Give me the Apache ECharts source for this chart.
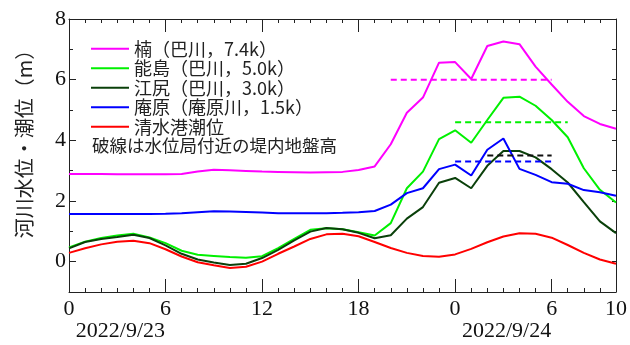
<!DOCTYPE html>
<html>
<head>
<meta charset="utf-8">
<script src="https://cdn.jsdelivr.net/npm/echarts@6/dist/echarts.min.js"></script>
<style>
  html, body { margin: 0; padding: 0; background: #fff; }
  #chart { width: 630px; height: 345px; }
</style>
</head>
<body>
<div id="chart"></div>
<script>
// Hours since 2022/9/23 00:00
const hours = [0,1,2,3,4,5,6,7,8,9,10,11,12,13,14,15,16,17,18,19,20,21,22,23,24,25,26,27,28,29,30,31,32,33,34];

// River water levels (m)
const kusunoki = [2.89,2.89,2.89,2.88,2.88,2.88,2.88,2.89,2.97,3.03,3.01,2.99,2.97,2.96,2.95,2.94,2.95,2.96,3.02,3.14,3.87,4.91,5.41,6.56,6.58,6.02,7.11,7.26,7.17,6.43,5.84,5.27,4.80,4.54,4.38];
const nojima   = [0.47,0.66,0.78,0.86,0.92,0.80,0.61,0.36,0.23,0.19,0.15,0.13,0.18,0.45,0.75,1.05,1.10,1.07,0.97,0.86,1.27,2.42,2.97,4.04,4.33,3.92,4.67,5.40,5.44,5.14,4.67,4.10,3.08,2.37,1.95];
const ejiri    = [0.44,0.65,0.75,0.81,0.89,0.78,0.54,0.26,0.07,-0.03,-0.11,-0.07,0.12,0.39,0.70,0.99,1.11,1.07,0.95,0.77,0.87,1.42,1.80,2.60,2.76,2.42,3.16,3.65,3.65,3.44,3.05,2.61,1.96,1.33,0.94];
const iohara   = [1.57,1.57,1.57,1.57,1.57,1.57,1.58,1.60,1.63,1.66,1.65,1.64,1.62,1.60,1.60,1.60,1.60,1.61,1.63,1.67,1.88,2.26,2.42,3.05,3.20,2.84,3.69,4.06,3.06,2.86,2.62,2.57,2.36,2.29,2.17];
// Tide level at Shimizu port (m)
const shimizuTide = [0.29,0.44,0.57,0.66,0.69,0.61,0.41,0.17,-0.02,-0.12,-0.21,-0.17,0.00,0.26,0.50,0.75,0.90,0.92,0.84,0.65,0.45,0.29,0.19,0.16,0.24,0.42,0.64,0.83,0.94,0.92,0.79,0.55,0.29,0.07,-0.07];

// Ground level behind the levee near each gauge: [startHour, endHour, level]
const groundKusunoki = [20, 30, 6.0];
const groundNojima   = [24, 31, 4.6];
const groundEjiri    = [26, 30, 3.5];
const groundIohara   = [24, 30, 3.3];

// Axis ticks
const hourTicks = [0, 6, 12, 18, 24, 30, 34];
const levelTicks = [0, 2, 4, 6, 8];
const dateLabels = ['2022/9/23', '2022/9/24'];
const datePositions = [3.2, 27.2];

const names = ['楠（巴川，7.4k）', '能島（巴川，5.0k）', '江尻（巴川，3.0k）', '庵原（庵原川，1.5k）', '清水港潮位'];
const colors = ['#ff00ff', '#00f000', '#0a400a', '#0000ff', '#ff0000'];

const pair = arr => hours.map((h, i) => [h, arr[i]]);
const seg = g => [[g[0], g[2]], [g[1], g[2]]];

const serif = '"Liberation Serif", "Times New Roman", serif';
const cjk = '"Noto Sans CJK JP", "Noto Sans", sans-serif';
const axisCol = '#222';

const X_MIN = 0, X_MAX = 34, Y_MIN = -1, Y_MAX = 8;

function xAx(extra) {
  return Object.assign({
    type: 'value', min: X_MIN, max: X_MAX, position: 'bottom',
    splitLine: { show: false },
    axisLine: { show: false, onZero: false },
    axisTick: { show: false },
    axisLabel: { show: false }
  }, extra);
}
function yAx(extra) {
  return Object.assign({
    type: 'value', min: Y_MIN, max: Y_MAX, position: 'left',
    splitLine: { show: false },
    axisLine: { show: false, onZero: false },
    axisTick: { show: false },
    axisLabel: { show: false }
  }, extra);
}

const lineSeries = [kusunoki, nojima, ejiri, iohara, shimizuTide].map((arr, i) => ({
  name: names[i], type: 'line', data: pair(arr), symbol: 'none',
  xAxisIndex: 0, yAxisIndex: 0,
  lineStyle: { color: colors[i], width: 2 },
  itemStyle: { color: colors[i] },
  z: 3
}));

const dashSeries = [
  [groundKusunoki, '#ff00ff'],
  [groundNojima, '#00f000'],
  [groundEjiri, '#111111'],
  [groundIohara, '#0000ff']
].map(([g, c]) => ({
  type: 'line', data: seg(g), symbol: 'none',
  xAxisIndex: 0, yAxisIndex: 0,
  lineStyle: { color: c, width: 2, type: [6, 4] },
  z: 4, silent: true
}));

const chart = echarts.init(document.getElementById('chart'), null, { renderer: 'canvas' });
chart.setOption({
  animation: false,
  backgroundColor: '#fff',
  grid: { left: 69, right: 10, top: 19, bottom: 53, containLabel: false },
  legend: {
    data: names,
    orient: 'vertical',
    left: 86, top: 34,
    itemWidth: 38, itemHeight: 2, itemGap: 0,
    icon: 'rect',
    textStyle: { fontFamily: cjk, fontSize: 18, color: '#222', lineHeight: 19.5 },
    selectedMode: false
  },
  graphic: [
    {
      type: 'text', left: 92, top: 137,
      style: { text: '破線は水位局付近の堤内地盤高', font: '17.5px ' + cjk, fill: '#222' }
    },
    {
      type: 'text', x: 24, y: 139, rotation: Math.PI / 2,
      style: { text: '河川水位・潮位（m）', font: '20px ' + cjk, fill: '#222', align: 'center', verticalAlign: 'middle' }
    }
  ],
  xAxis: [
    // main bottom axis with labels and long ticks
    xAx({
      axisLine: { show: true, onZero: false, lineStyle: { color: axisCol, width: 1 } },
      axisTick: { show: true, inside: true, length: 13, customValues: hourTicks, lineStyle: { color: axisCol } },
      axisLabel: { show: true, customValues: hourTicks, margin: 6, fontFamily: serif, fontSize: 22, color: '#111',
        formatter: v => String(v % 24) }
    }),
    // hourly minor ticks at the bottom
    xAx({ interval: 1, axisTick: { show: true, inside: true, length: 4, lineStyle: { color: axisCol } } }),
    // top frame with long ticks
    xAx({
      position: 'top',
      axisLine: { show: true, onZero: false, lineStyle: { color: axisCol, width: 1 } },
      axisTick: { show: true, inside: true, length: 13, customValues: hourTicks, lineStyle: { color: axisCol } }
    }),
    // hourly minor ticks at the top
    xAx({ position: 'top', interval: 1, axisTick: { show: true, inside: true, length: 4, lineStyle: { color: axisCol } } }),
    // date row
    xAx({
      offset: 22,
      axisLabel: { show: true, customValues: datePositions, margin: 6, fontFamily: serif, fontSize: 22, color: '#111',
        formatter: v => dateLabels[datePositions.indexOf(v)] }
    })
  ],
  yAxis: [
    yAx({
      axisLine: { show: true, onZero: false, lineStyle: { color: axisCol, width: 1 } },
      axisTick: { show: true, inside: true, length: 7, customValues: levelTicks, lineStyle: { color: axisCol } },
      axisLabel: { show: true, customValues: levelTicks, margin: 3, fontFamily: serif, fontSize: 22, color: '#111' }
    }),
    yAx({ interval: 1, axisTick: { show: true, inside: true, length: 4, lineStyle: { color: axisCol } } }),
    yAx({
      position: 'right', interval: 1,
      axisLine: { show: true, onZero: false, lineStyle: { color: axisCol, width: 1 } },
      axisTick: { show: true, inside: true, length: 4, lineStyle: { color: axisCol } }
    })
  ],
  series: lineSeries.concat(dashSeries)
});
</script>
</body>
</html>
